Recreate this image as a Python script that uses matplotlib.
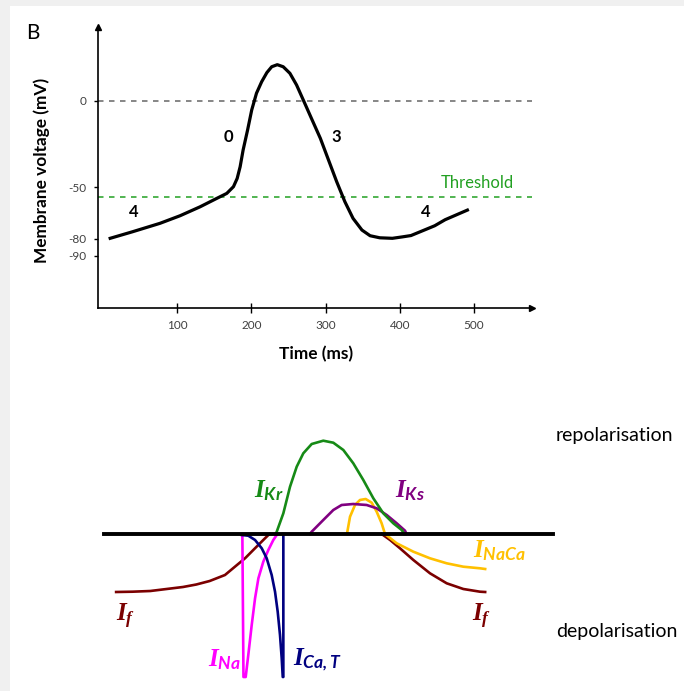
import matplotlib.pyplot as plt
from matplotlib.patches import Rectangle

# --- Potencial de accion (ms, mV) ---
ap_t = [10, 40, 77, 104, 131, 153.5, 167, 176, 181, 185, 189, 195, 200.6, 207, 214, 221, 227.5,
        235, 243, 252, 261, 270, 281, 293, 304, 315, 326, 337, 349, 360, 373, 390, 403, 415,
        433, 447, 461, 491]
ap_v = [-79.8, -76, -71.1, -66.7, -61.5, -56.6, -53.7, -49.8, -45, -38.2, -28.5, -16.9, -5.2,
        4.5, 11.2, 16.5, 19.9, 21.1, 19.9, 16.1, 9.3, 0.6, -10.1, -21.7, -34.3, -46.9, -58.5,
        -68.2, -75, -78.3, -79.5, -79.8, -79, -78.2, -75, -72.5, -69, -63.4]
THRESHOLD = -56
x_ticks = [100, 200, 300, 400, 500]
y_ticks = [0, -50, -80, -90]
phases = [("0", 169, -20.9), ("3", 314, -20.9), ("4", 42, -64.7), ("4", 435, -64.7)]

# --- Corrientes ionicas (esquema, unidades arbitrarias) ---
if1_t = [18, 40, 64, 86, 108, 126, 144, 164.6, 178, 191.6, 205, 218.5, 223, 225]
if1_i = [-5.8, -5.77, -5.7, -5.5, -5.3, -5.05, -4.7, -4.1, -3.27, -2.43, -1.43, -0.43, -0.1, 0]
if2_t = [375.6, 387, 400.3, 418.3, 440.7, 463.2, 485.6, 508, 515]
if2_i = [0, -0.6, -1.43, -2.6, -3.93, -4.93, -5.5, -5.77, -5.8]
ina_t = [188, 189.5, 192.5, 196, 200.6, 205.1, 209.6, 216.2, 223, 229.7, 234.3, 236]
ina_i = [0, -14.3, -14.3, -12.1, -9.1, -6.43, -4.43, -2.77, -1.6, -0.6, -0.1, 0]
ica_t = [187.1, 196, 205.1, 214.1, 220.8, 227.5, 232, 235.6, 238.7, 241, 242.4, 243.2, 243.2]
ica_i = [-0.1, -0.17, -0.6, -1.43, -2.43, -4.1, -5.77, -7.77, -10.1, -12.43, -14.3, -14.3, 0]
ikr_t = [233, 234.3, 243.2, 252.2, 261.2, 270.1, 281.4, 297, 310.5, 324, 337.4, 350.9, 364.4,
         377.8, 391.3, 402.6, 406]
ikr_i = [0, 0.23, 2.07, 4.73, 6.73, 8.07, 9.0, 9.33, 9.13, 8.4, 7.07, 5.4, 3.57, 2.07, 1.07, 0.4, 0]
iks_t = [279, 281.4, 297, 310.5, 321.7, 337.4, 355.4, 368.9, 382.4, 395.9, 407.1, 409]
iks_i = [0, 0.23, 1.4, 2.4, 2.9, 3.0, 2.9, 2.57, 1.9, 1.07, 0.33, 0]
inaca_t = [329, 329.4, 333, 339.7, 346.4, 354.1, 362.2, 368.9, 375.6, 380.1, 395.9, 418.3,
           440.7, 463.2, 485.6, 508, 515]
inaca_i = [0, 0.23, 1.73, 2.9, 3.4, 3.5, 3.13, 2.23, 1.07, 0, -0.93, -1.77, -2.43, -2.93,
           -3.27, -3.43, -3.5]

plt.rcParams["font.family"] = ["Lato", "DejaVu Sans"]
plt.rcParams["axes.unicode_minus"] = False
plt.rcParams["mathtext.fontset"] = "custom"
plt.rcParams["mathtext.it"] = "Liberation Serif:italic:bold"
plt.rcParams["mathtext.sf"] = "Lato:italic:bold"

fig = plt.figure(figsize=(6.84, 6.91), dpi=100, facecolor="#f0f0f0")
fig.patches.append(Rectangle((10 / 684, 0), 1, 1 - 6 / 691, transform=fig.transFigure,
                             facecolor="white", edgecolor="none", zorder=-5))

# ---------------- panel superior ----------------
ax = fig.add_axes([98 / 684, 1 - 308 / 691, 434 / 684, 281 / 691])
ax.set_facecolor("none")
ax.set_xlim(-6.4, 578)
ax.set_ylim(-120.3, 43)
for s in ("top", "right"):
    ax.spines[s].set_visible(False)
ax.spines["left"].set_linewidth(1.2)
ax.spines["bottom"].set_linewidth(1.2)
ax.plot(1, 0, ">k", ms=5, transform=ax.transAxes, clip_on=False)
ax.plot(0, 1, "^k", ms=5, transform=ax.transAxes, clip_on=False)

ax.set_xticks(x_ticks)
ax.set_yticks(y_ticks)
ax.tick_params(axis="x", direction="inout", length=7, width=1, labelsize=8.5, labelcolor="#404040", pad=5)
ax.tick_params(axis="y", direction="out", length=3, width=1, labelsize=8.5, labelcolor="#404040", pad=5)

ax.axhline(0, color="#666666", lw=1.1, dashes=(3.6, 3.6))
ax.axhline(THRESHOLD, color="#22a022", lw=1.1, dashes=(3.6, 3.6))
ax.plot(ap_t, ap_v, color="black", lw=2.3, solid_joinstyle="round")

for lab, t, v in phases:
    ax.text(t, v, lab, ha="center", va="center", fontsize=12, fontweight="bold")
ax.text(505, -47.7, "Threshold", ha="center", va="center", fontsize=12, color="#22a022")

fig.text(41.5 / 684, 1 - 170 / 691, "Membrane voltage (mV)", rotation=90,
         ha="center", va="center", fontsize=12.4, fontweight="bold")
fig.text(316 / 684, 1 - 354 / 691, "Time (ms)", ha="center", va="center",
         fontsize=12.4, fontweight="bold")
fig.text(33 / 684, 1 - 33 / 691, "B", ha="center", va="center", fontsize=15)

# ---------------- panel inferior ----------------
bx = fig.add_axes([0, 0, 1, 291 / 691])
bx.set_facecolor("none")
bx.set_xlim(-138.4, 782.8)
bx.set_ylim(-15.7, 13.4)
bx.axis("off")

lw = 1.9
kw = dict(lw=lw, solid_joinstyle="round")
bx.plot(if1_t, if1_i, color="#7b0000", **kw)
bx.plot(if2_t, if2_i, color="#7b0000", **kw)
bx.plot(inaca_t, inaca_i, color="#ffc000", **kw)
bx.plot(iks_t, iks_i, color="#800080", **kw)
bx.plot(ikr_t, ikr_i, color="#168a16", **kw)
bx.plot(ina_t, ina_i, color="#ff00ff", **kw)
bx.plot(ica_t, ica_i, color="#000080", **kw)
bx.plot([2, 606], [0, 0], color="black", lw=2.8)

labels = [
    (r"$\mathit{I}_{\mathsf{Kr}}$", 203.7, 3.7, "#168a16"),
    (r"$\mathit{I}_{\mathsf{Ks}}$", 393.6, 3.7, "#800080"),
    (r"$\mathit{I}_{\mathsf{NaCa}}$", 498.3, -2.33, "#ffc000"),
    (r"$\mathit{I}_{\mathit{f}}$", 17.8, -8.77, "#7b0000"),
    (r"$\mathit{I}_{\mathit{f}}$", 496.9, -8.77, "#7b0000"),
    (r"$\mathit{I}_{\mathsf{Na}}$", 142.2, -13.27, "#ff00ff"),
    (r"$\mathit{I}_{\mathsf{Ca,T}}$", 256.6, -13.1, "#000080"),
]
for txt, t, i, c in labels:
    bx.text(t, i, txt, ha="left", va="baseline", fontsize=18, color=c)

bx.text(688.6, 9.9, "repolarisation", ha="center", va="center", fontsize=14)
bx.text(692, -9.7, "depolarisation", ha="center", va="center", fontsize=14)

fig.savefig("out.png", dpi=100, facecolor=fig.get_facecolor())
